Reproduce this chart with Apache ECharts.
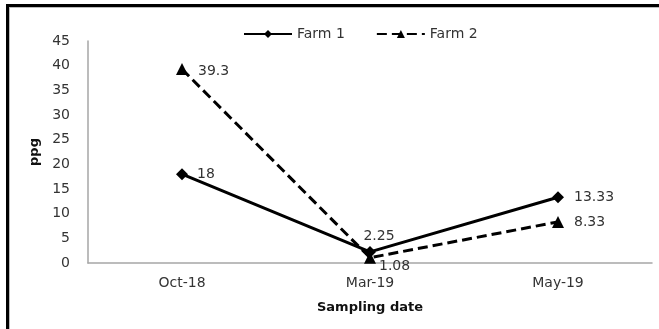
<!DOCTYPE html>
<html><head><meta charset="utf-8">
<script src="https://cdn.jsdelivr.net/npm/echarts@6/dist/echarts.min.js"></script>
<style>html,body{margin:0;padding:0;background:#fff}#c{width:659px;height:329px}</style>
</head><body><div id="c"></div>
<script>
const categories = ['Oct-18', 'Mar-19', 'May-19'];
const farm1 = [18, 2.25, 13.33];
const farm2 = [39.3, 1.08, 8.33];
const yTicks = {min: 0, max: 45, interval: 5};

const font = 'DejaVu Sans, Verdana, sans-serif';
const farm1Labels = [
  {position: 'right', offset: [4, 0]},
  {position: 'top', offset: [9, 2]},
  {position: 'right', offset: [5, 0]}
];
const farm2Labels = [
  {position: 'right', offset: [5, 2]},
  {position: 'right', offset: [-2, 9]},
  {position: 'right', offset: [5, 0]}
];
const chart = echarts.init(document.getElementById('c'), null, {renderer: 'canvas'});
chart.setOption({
  animation: false,
  backgroundColor: '#fff',
  textStyle: {fontFamily: font},
  grid: {left: 88, right: 7, top: 41, bottom: 66, containLabel: false},
  legend: {
    left: 238, top: 22, itemWidth: 48, itemHeight: 10, itemGap: 31,
    textStyle: {fontFamily: font, fontSize: 14, color: '#333'},
    data: ['Farm 1', 'Farm 2']
  },
  xAxis: {
    type: 'category', data: categories, boundaryGap: true,
    axisLine: {lineStyle: {color: '#a6a6a6', width: 1.5}},
    axisTick: {show: false},
    axisLabel: {fontFamily: font, fontSize: 14, color: '#333', margin: 13},
    name: 'Sampling date', nameLocation: 'middle', nameGap: 38,
    nameTextStyle: {fontFamily: font, fontSize: 13, fontWeight: 'bold', color: '#111'}
  },
  yAxis: {
    type: 'value', min: yTicks.min, max: yTicks.max, interval: yTicks.interval,
    axisLine: {show: true, lineStyle: {color: '#a6a6a6', width: 1.5}},
    axisTick: {show: false},
    splitLine: {show: false},
    axisLabel: {fontFamily: font, fontSize: 14, color: '#333', margin: 18},
    name: 'ppg', nameLocation: 'middle', nameRotate: 90, nameGap: 45,
    nameTextStyle: {fontFamily: font, fontSize: 13, fontWeight: 'bold', color: '#111'}
  },
  series: [
    {
      name: 'Farm 1', type: 'line',
      data: farm1.map((v, i) => ({value: v, label: farm1Labels[i]})),
      symbol: 'diamond', symbolSize: 12,
      itemStyle: {color: '#000'},
      lineStyle: {color: '#000', width: 3},
      label: {show: true, fontFamily: font, fontSize: 14, color: '#333'}
    },
    {
      name: 'Farm 2', type: 'line',
      data: farm2.map((v, i) => ({value: v, label: farm2Labels[i]})),
      symbol: 'triangle', symbolSize: 12,
      itemStyle: {color: '#000'},
      lineStyle: {color: '#000', width: 3, type: [10, 5]},
      label: {show: true, fontFamily: font, fontSize: 14, color: '#333'}
    }
  ],
  graphic: [
    {type: 'line', shape: {x1: 6, y1: 5.5, x2: 659, y2: 5.5}, style: {stroke: '#000', lineWidth: 3}},
    {type: 'line', shape: {x1: 7.5, y1: 4, x2: 7.5, y2: 329}, style: {stroke: '#000', lineWidth: 3}},
    {type: 'line', shape: {x1: 9, y1: 7.5, x2: 659, y2: 7.5}, style: {stroke: '#bbb', lineWidth: 1}},
    {type: 'line', shape: {x1: 9.5, y1: 7, x2: 9.5, y2: 329}, style: {stroke: '#bbb', lineWidth: 1}}
  ]
});
</script></body></html>
